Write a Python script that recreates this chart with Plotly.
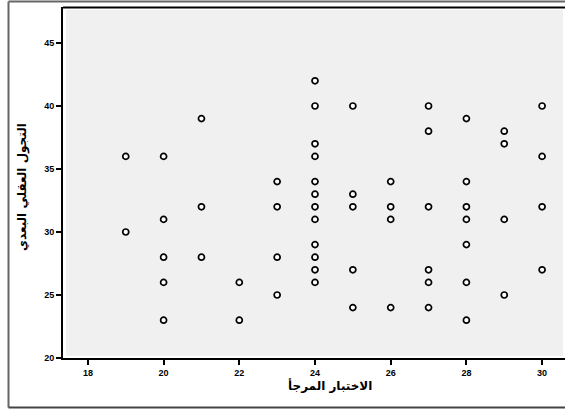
import plotly.graph_objects as go

# Data (x = الاختبار المرجأ, y = التجول العقلي البعدي)
delayed_test = (
    [19] * 2 + [20] * 5 + [21] * 3 + [22] * 2 + [23] * 4 + [24] * 12 +
    [25] * 5 + [26] * 4 + [27] * 6 + [28] * 7 + [29] * 4 + [30] * 4
)
mind_wandering_post = (
    [36, 30] +
    [36, 31, 28, 26, 23] +
    [39, 32, 28] +
    [26, 23] +
    [34, 32, 28, 25] +
    [42, 40, 37, 36, 34, 33, 32, 31, 29, 28, 27, 26] +
    [40, 33, 32, 27, 24] +
    [34, 32, 31, 24] +
    [40, 38, 32, 27, 26, 24] +
    [39, 34, 32, 31, 29, 26, 23] +
    [38, 37, 31, 25] +
    [40, 36, 32, 27]
)
x_ticks = [18, 20, 22, 24, 26, 28, 30]
y_ticks = [20, 25, 30, 35, 40, 45]
x_title = "الاختبار المرجأ"
y_title = "التجول العقلي البعدي"

W, H = 565, 409
L, R, T, B = 63, 0, 7, 51
pw, ph = W - L - R, H - T - B

def px(xp):
    return (xp - L) / pw

def py(yp):
    return (H - B - yp) / ph

fig = go.Figure()
fig.add_trace(go.Scatter(
    x=delayed_test, y=mind_wandering_post, mode="markers",
    marker=dict(symbol="circle", size=6, color="white",
                line=dict(color="black", width=1.7)),
    hoverinfo="x+y", showlegend=False,
))

tick_font = dict(family="Liberation Sans, Arial, sans-serif", size=9, color="black", weight="bold")
fig.update_xaxes(
    range=[17.342, 30.605], tickvals=x_ticks, ticks="outside", ticklen=5,
    tickwidth=1.5, tickcolor="black", showgrid=False, zeroline=False,
    showline=True, linecolor="black", linewidth=2, tickfont=tick_font,
)
fig.update_yaxes(
    range=[20, 47.857], tickvals=y_ticks, ticks="outside", ticklen=5,
    tickwidth=1.5, tickcolor="black", showgrid=False, zeroline=False,
    showline=True, linecolor="black", linewidth=2, tickfont=tick_font,
)

shapes = [
    # inset gray plot background
    dict(type="rect", xref="paper", yref="paper", x0=px(66), x1=px(563),
         y0=py(356), y1=py(10), fillcolor="#f0f0f0", line=dict(width=0), layer="below"),
    # top border of the plot
    dict(type="line", xref="paper", yref="paper", x0=px(63), x1=px(565),
         y0=py(7.5), y1=py(7.5), line=dict(color="black", width=2)),
    # outer frame
    dict(type="line", xref="paper", yref="paper", x0=px(8.5), x1=px(8.5),
         y0=py(1.5), y1=py(407.5), line=dict(color="#666666", width=2)),
    dict(type="line", xref="paper", yref="paper", x0=px(8.5), x1=px(565),
         y0=py(1.5), y1=py(1.5), line=dict(color="#666666", width=2)),
    dict(type="line", xref="paper", yref="paper", x0=px(8.5), x1=px(565),
         y0=py(407.5), y1=py(407.5), line=dict(color="#444444", width=2)),
]

title_font = dict(family="DejaVu Sans, Arial, sans-serif", size=12, color="black", weight="bold")
annotations = [
    dict(text=x_title, xref="paper", yref="paper", x=px(330), y=py(385),
         showarrow=False, font=title_font, xanchor="center", yanchor="middle"),
    dict(text=y_title, xref="paper", yref="paper", x=px(23), y=py(187),
         showarrow=False, font=title_font, textangle=-90,
         xanchor="center", yanchor="middle"),
]

fig.update_layout(
    width=W, height=H, margin=dict(l=L, r=R, t=T, b=B),
    paper_bgcolor="white", plot_bgcolor="white",
    shapes=shapes, annotations=annotations,
)

fig.write_html(
    "out.html",
    config={"displayModeBar": False},
    post_script="document.body.style.margin='0';document.body.style.overflow='hidden';",
)
